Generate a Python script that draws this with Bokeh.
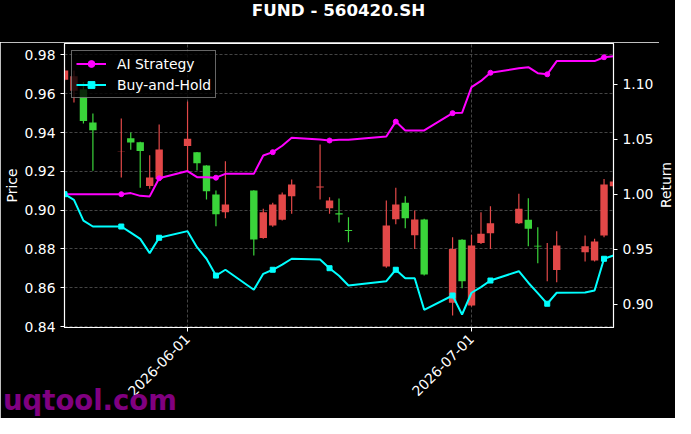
import math
import pandas as pd
from bokeh.plotting import figure
from bokeh.models import (Range1d, LinearAxis, FixedTicker, DatetimeTickFormatter,
                          PrintfTickFormatter, ColumnDataSource, Title, Div)
from bokeh.layouts import column, row
from bokeh.embed import file_html
from bokeh.resources import INLINE

# ---------------- data ----------------
dates = ["2026-05-19", "2026-05-20", "2026-05-21", "2026-05-22",
         "2026-05-25", "2026-05-26", "2026-05-27", "2026-05-28", "2026-05-29",
         "2026-06-01", "2026-06-02", "2026-06-03", "2026-06-04", "2026-06-05",
         "2026-06-08", "2026-06-09", "2026-06-10", "2026-06-11", "2026-06-12",
         "2026-06-15", "2026-06-16", "2026-06-17", "2026-06-18",
         "2026-06-22", "2026-06-23", "2026-06-24", "2026-06-25", "2026-06-26",
         "2026-06-29", "2026-06-30", "2026-07-01", "2026-07-02", "2026-07-03",
         "2026-07-06", "2026-07-07", "2026-07-08", "2026-07-09", "2026-07-10",
         "2026-07-13", "2026-07-14", "2026-07-15", "2026-07-16"]

opens = [0.9720, 0.9690, 0.9460, 0.9412, 0.9301, 0.9349, 0.9305, 0.9168, 0.9312,
         0.9368, 0.9242, 0.9097, 0.8979, 0.9029, 0.8848, 0.8989, 0.9029, 0.9080,
         0.9132, 0.9122, 0.9050, 0.8978, 0.8893, 0.8921, 0.9029, 0.8958, 0.8952,
         0.8668, 0.8800, 0.8634, 0.8818, 0.8878, 0.8933, 0.9007, 0.8904, 0.8812,
         0.8741, 0.8818, 0.8814, 0.8838, 0.9132, 0.9147]
highs = [0.9735, 0.9720, 0.9660, 0.9498, 0.9472, 0.9400, 0.9352, 0.9283, 0.9441,
         0.9560, 0.9300, 0.9232, 0.9101, 0.9252, 0.9103, 0.9007, 0.9038, 0.9091,
         0.9158, 0.9338, 0.9067, 0.9060, 0.8963, 0.9050, 0.9115, 0.9072, 0.8998,
         0.8955, 0.8860, 0.8850, 0.8873, 0.8989, 0.9020, 0.9084, 0.9061, 0.8912,
         0.8831, 0.8891, 0.8869, 0.8852, 0.9161, 0.9170]
lows = [0.9665, 0.9555, 0.9446, 0.9203, 0.9168, 0.9311, 0.9116, 0.9110, 0.9155,
        0.9204, 0.9204, 0.9055, 0.8917, 0.8958, 0.8766, 0.8852, 0.8915, 0.8946,
        0.8981, 0.9055, 0.8981, 0.8936, 0.8835, 0.8703, 0.8927, 0.8907, 0.8800,
        0.8663, 0.8457, 0.8597, 0.8503, 0.8826, 0.8800, 0.8929, 0.8814, 0.8726,
        0.8634, 0.8628, 0.8735, 0.8735, 0.8860, 0.9110]
closes = [0.9672, 0.9615, 0.9623, 0.9452, 0.9300, 0.9370, 0.9350, 0.9125, 0.9161,
          0.9331, 0.9298, 0.9230, 0.9080, 0.8989, 0.9101, 0.8857, 0.8921, 0.8950,
          0.9072, 0.9117, 0.9010, 0.8984, 0.8898, 0.8709, 0.8953, 0.9038, 0.8871,
          0.8952, 0.8522, 0.8847, 0.8508, 0.8831, 0.8881, 0.8933, 0.8950, 0.8817,
          0.8740, 0.8692, 0.8783, 0.8740, 0.8869, 0.9123]

ai_strategy = [1.000, 1.000, 1.000, 1.000, 1.000, 1.001, 0.9985, 0.998, 1.0145,
               1.021, 1.0155, 1.0155, 1.015, 1.0185, 1.0185, 1.0352, 1.0382, 1.044,
               1.0513, 1.0497, 1.0488, 1.0495, 1.0495, 1.0525, 1.066, 1.058, 1.058,
               1.058, 1.0737, 1.074, 1.0973, 1.103, 1.1104, 1.1145, 1.1155, 1.110,
               1.109, 1.121, 1.121, 1.121, 1.1245, 1.1255]
buy_and_hold = [1.000, 0.9949, 0.976, 0.9706, 0.9706, 0.9650, 0.9594, 0.9464, 0.9604,
                0.9664, 0.9518, 0.9413, 0.926, 0.9313, 0.9131, 0.9276, 0.9313, 0.936,
                0.9413, 0.9406, 0.9327, 0.9258, 0.917, 0.9209, 0.9313, 0.9236, 0.9236,
                0.8949, 0.9079, 0.8906, 0.9104, 0.9155, 0.9215, 0.930, 0.9195, 0.9101,
                0.9004, 0.9104, 0.9106, 0.9125, 0.9413, 0.9443]

price_ticks = [0.84, 0.86, 0.88, 0.90, 0.92, 0.94, 0.96, 0.98]
return_ticks = [0.90, 0.95, 1.00, 1.05, 1.10]
date_ticks = ["2026-06-01", "2026-07-01"]

title_text = "FUND - 560420.SH"
left_label = "Price"
right_label = "Return"
watermark = "uqtool.com"

# ---------------- build ----------------
FONT = "DejaVu Sans"
UP = "#3ad43a"
DOWN = "#e24848"

dt = pd.to_datetime(dates)
colors = [UP if c >= o else DOWN for o, c in zip(opens, closes)]
src = ColumnDataSource(dict(
    x=dt, top=[max(o, c) for o, c in zip(opens, closes)],
    bottom=[min(o, c) for o, c in zip(opens, closes)],
    high=highs, low=lows, color=colors))

p = figure(width=659, height=376, x_axis_type="datetime", title=None,
           x_range=Range1d(dt[0], dt[-1]), y_range=Range1d(0.8395, 0.9859),
           output_backend="svg", toolbar_location=None,
           min_border_left=63, min_border_right=46,
           min_border_top=1, min_border_bottom=91)
p.extra_y_ranges = {"ret": Range1d(0.8788, 1.137)}

p.background_fill_color = "black"
p.border_fill_color = "black"
p.outline_line_color = "white"
p.outline_line_width = 1.2

# grid
date_ms = [pd.Timestamp(d).value // 10**6 for d in date_ticks]
p.xgrid.ticker = FixedTicker(ticks=date_ms)
p.ygrid.ticker = FixedTicker(ticks=price_ticks)
for g in (p.xgrid, p.ygrid):
    g.grid_line_color = "#555555"
    g.grid_line_dash = "3 2"
    g.grid_line_width = 0.8

# axes
xa = p.xaxis[0]
xa.ticker = FixedTicker(ticks=date_ms)
xa.formatter = DatetimeTickFormatter(days="%Y-%m-%d", months="%Y-%m-%d",
                                     years="%Y-%m-%d", hours="%Y-%m-%d")
xa.major_label_orientation = math.pi / 4

ya = p.yaxis[0]
ya.ticker = FixedTicker(ticks=price_ticks)
ya.formatter = PrintfTickFormatter(format="%.2f")
ya.axis_label = left_label

ra = LinearAxis(y_range_name="ret", ticker=FixedTicker(ticks=return_ticks),
                formatter=PrintfTickFormatter(format="%.2f"))
p.add_layout(ra, "right")

for ax in (xa, ya, ra):
    ax.axis_line_color = "white"
    ax.major_tick_line_color = "white"
    ax.minor_tick_line_color = None
    ax.major_tick_out = 4
    ax.major_tick_in = 0
    ax.major_label_text_color = "white"
    ax.major_label_text_font = FONT
    ax.major_label_text_font_size = "13.9px"
    ax.major_label_standoff = 5
    ax.axis_label_text_color = "white"
    ax.axis_label_text_font = FONT
    ax.axis_label_text_font_size = "13.9px"
    ax.axis_label_text_font_style = "normal"
ya.axis_label_standoff = 2

# candles
p.segment(x0="x", y0="low", x1="x", y1="high", color="color", line_width=1.2, source=src)
p.vbar(x="x", width=0.78 * 86400000, top="top", bottom="bottom",
       fill_color="color", line_color=None, source=src)

# strategy lines
p.line(dt, ai_strategy, y_range_name="ret", color="#ff00ff", line_width=2,
       legend_label="AI Strategy")
p.scatter(dt[::4], ai_strategy[::4], y_range_name="ret", marker="circle", size=5,
          color="#ff00ff", legend_label="AI Strategy")
p.line(dt, buy_and_hold, y_range_name="ret", color="#00ffff", line_width=2,
       legend_label="Buy-and-Hold")
p.scatter(dt[::4], buy_and_hold[::4], y_range_name="ret", marker="square", size=5,
          color="#00ffff", legend_label="Buy-and-Hold")

lg = p.legend[0]
lg.location = "top_left"
lg.margin = 7
lg.padding = 4
lg.spacing = 4
lg.background_fill_color = "black"
lg.background_fill_alpha = 0.8
lg.border_line_color = "#cccccc"
lg.border_line_width = 1
lg.label_text_color = "white"
lg.label_text_font = FONT
lg.label_text_font_size = "13.9px"
lg.glyph_width = 30
lg.glyph_height = 17
lg.label_height = 17
lg.label_standoff = 11

# watermark below the plot area (side panel, so it is not clipped)
p.add_layout(Title(text=watermark, align="left", offset=-61.5, vertical_align="top",
                   standoff=-40, text_color="#800080", text_font=FONT,
                   text_font_size="27.5px", text_font_style="bold"), "below")

head = Div(text=('<div style="width:675px;height:42px;box-sizing:border-box;'
                 'padding-left:2px;text-align:center;font-family:\'DejaVu Sans\';'
                 'font-size:16.7px;font-weight:bold;color:white;line-height:20px;">'
                 + title_text + '</div>'),
           width=675, height=42, margin=0, styles={"background-color": "black"})

side = Div(text=('<div style="width:16px;height:376px;box-sizing:border-box;'
                 'padding-bottom:90px;padding-right:2px;display:flex;'
                 'align-items:center;justify-content:center;">'
                 '<span style="display:inline-block;transform:rotate(-90deg);'
                 'white-space:nowrap;font-family:\'DejaVu Sans\';font-size:13.9px;'
                 'color:white;line-height:14px;">' + right_label + '</span></div>'),
           width=16, height=376, margin=0, styles={"background-color": "black"})

layout = column(head, row(p, side, spacing=0, margin=0), spacing=0, margin=0)
open("out.html", "w").write(file_html(layout, INLINE))
